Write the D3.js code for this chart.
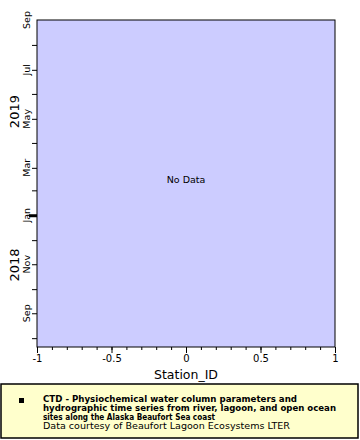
<!DOCTYPE html>
<html><head><meta charset="utf-8">
<script src="https://cdn.jsdelivr.net/npm/d3@7"></script>
<style>body{margin:0;background:#fff}svg{display:block}</style>
</head><body>
<script>
// ---- data ----
const stationIds = [];            // no observations
const sampleDates = [];           // no observations
const xDomain = [-1, 1];
const xTickValues = [-1, -0.5, 0, 0.5, 1];
const timeDomain = ["2018-07-21", "2019-09-01"];
const monthLabels = ["Sep", "Nov", "Jan", "Mar", "May", "Jul", "Sep"];
const monthLabelDates = ["2018-09-01","2018-11-01","2019-01-01","2019-03-01","2019-05-01","2019-07-01","2019-09-01"];
const yearLabels = ["2018", "2019"];
const legendTitle = ["CTD - Physiochemical water column parameters and",
  "hydrographic time series from river, lagoon, and open ocean",
  "sites along the Alaska Beaufort Sea coast"];
const legendCredit = "Data courtesy of Beaufort Lagoon Ecosystems LTER";

const W = 360, H = 440;
const m = {l: 37, r: 335, t: 20, b: 347};
const FONT = "'DejaVu Sans', Verdana, sans-serif";
const svg = d3.select("body").append("svg").attr("width", W).attr("height", H)
  .style("font-family", FONT);

const parse = d3.utcParse("%Y-%m-%d");
const x = d3.scaleLinear().domain(xDomain).range([m.l, m.r]);
const y = d3.scaleUtc().domain(timeDomain.map(parse)).range([m.b, m.t]);

svg.append("rect").attr("x", m.l).attr("y", m.t).attr("width", m.r - m.l).attr("height", m.b - m.t)
  .attr("fill", "#ccccff");

// data marks (none)
svg.append("g").selectAll("circle").data(stationIds.map((s, i) => [s, sampleDates[i]])).join("circle")
  .attr("cx", d => x(d[0])).attr("cy", d => y(parse(d[1]))).attr("r", 2);

svg.append("text").attr("x", (m.l + m.r) / 2).attr("y", 183).attr("text-anchor", "middle")
  .attr("font-size", 9.5).text("No Data");

svg.append("rect").attr("x", m.l).attr("y", m.t).attr("width", m.r - m.l).attr("height", m.b - m.t)
  .attr("fill", "none").attr("stroke", "#000");

// x axis
const xMinor = d3.range(-10, 11).map(d => d / 10);
const gx = svg.append("g").attr("transform", `translate(0,${m.b})`);
gx.call(d3.axisBottom(x).tickValues(xMinor).tickSize(3).tickFormat(""))
  .call(g => g.select(".domain").remove());
gx.append("g").call(d3.axisBottom(x).tickValues(xTickValues).tickSize(6)
  .tickFormat(d => d === 0 ? "0" : String(d)))
  .call(g => g.select(".domain").remove())
  .call(g => g.selectAll("text").attr("font-size", 10).attr("fill", "#000")
     .attr("font-family", FONT).attr("dy", "0.6em"));
svg.append("text").attr("x", (m.l + m.r) / 2).attr("y", 379).attr("text-anchor", "middle")
  .attr("font-size", 12.5).text("Station_ID");

// y axis
const months = d3.utcMonth.range(...y.domain());
const gy = svg.append("g").attr("transform", `translate(${m.l},0)`);
gy.call(d3.axisLeft(y).tickValues(months).tickSize(5).tickFormat(""))
  .call(g => g.select(".domain").remove());
gy.selectAll(".tick").filter(d => d.getUTCMonth() === 0).select("line")
  .attr("x2", -8).attr("stroke-width", 3);
gy.selectAll(".lbl").data(monthLabels).join("text").attr("class", "lbl")
  .attr("transform", (d, i) => `translate(-7,${y(parse(monthLabelDates[i]))}) rotate(-90)`)
  .attr("text-anchor", "middle").attr("font-size", 9.5).attr("fill", "#000")
  .attr("font-family", FONT).text(d => d);
const yearMid = [y(parse("2018-10-31")), y(parse("2019-05-10"))];
svg.selectAll(".yr").data(yearLabels).join("text").attr("class", "yr")
  .attr("transform", (d, i) => `translate(19,${yearMid[i]}) rotate(-90)`)
  .attr("text-anchor", "middle").attr("font-size", 13).text(d => d);

// legend
svg.append("rect").attr("x", 1).attr("y", 384).attr("width", 357).attr("height", 54)
  .attr("fill", "#ffffcc").attr("stroke", "#000").attr("stroke-width", 1.5);
svg.append("rect").attr("x", 19).attr("y", 398).attr("width", 5).attr("height", 5).attr("fill", "#000");
const titleLens = [254, 293, 172];
svg.selectAll(".lt").data(legendTitle).join("text").attr("class", "lt")
  .attr("x", 43).attr("y", (d, i) => 402 + i * 8.8).attr("font-size", 9).attr("font-weight", "bold")
  .attr("textLength", (d, i) => titleLens[i]).attr("lengthAdjust", "spacingAndGlyphs")
  .text(d => d);
svg.append("text").attr("x", 43).attr("y", 428.5).attr("font-size", 9)
  .attr("textLength", 247).attr("lengthAdjust", "spacingAndGlyphs").text(legendCredit);
</script>
</body></html>
